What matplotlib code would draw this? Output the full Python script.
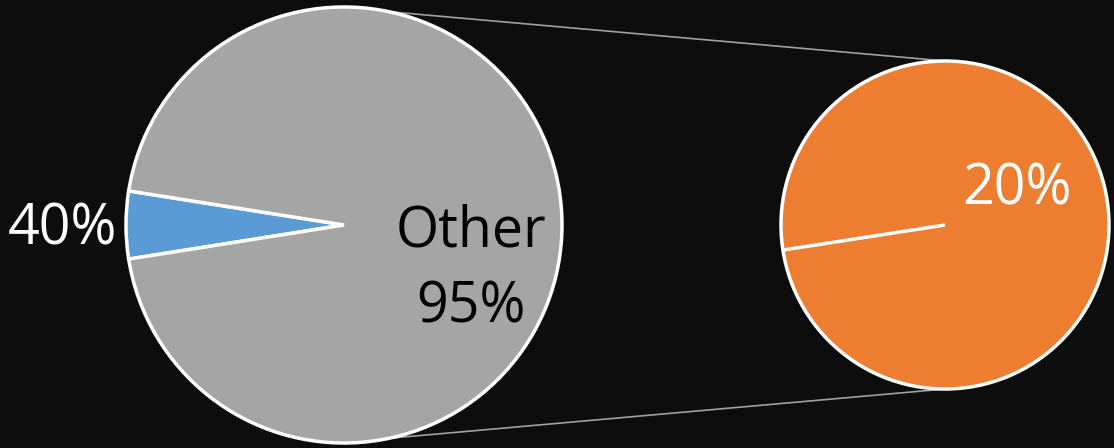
#pie of pie chart, dark background
import numpy as np
import matplotlib
matplotlib.use("Agg")
import matplotlib.pyplot as plt

main_values = [5, 95]
main_labels = ["40%", "Other\n95%"]
main_colors = ["#5b9bd5", "#a5a5a5"]

sub_values = [100]
sub_labels = ["20%"]
sub_colors = ["#ed7d31"]

bg = "#0d0d0d"
W, H = 1114, 448

fig = plt.figure(figsize=(W / 100, H / 100), dpi=100, facecolor=bg)
ax = fig.add_axes([0, 0, 1, 1])
ax.set_facecolor(bg)

# main pie
c1 = (344, H - 225)
r1 = 218
ax.pie(main_values, colors=main_colors, startangle=171, center=c1, radius=r1,
       wedgeprops=dict(edgecolor="white", linewidth=2.5), frame=True)

# secondary pie
c2 = (945, H - 225)
r2 = 164
start2 = 188.8
ax.pie(sub_values, colors=sub_colors, startangle=start2, center=c2, radius=r2,
       wedgeprops=dict(edgecolor="white", linewidth=2.5), frame=True)
a = np.deg2rad(start2)
ax.plot([c2[0], c2[0] + r2 * np.cos(a)], [c2[1], c2[1] + r2 * np.sin(a)],
        color="white", lw=2.5, solid_capstyle="butt")

# connector lines
for a1, a2 in [(78, 90), (-78, -90)]:
    t1, t2 = np.deg2rad(a1), np.deg2rad(a2)
    ax.plot([c1[0] + r1 * np.cos(t1), c2[0] + r2 * np.cos(t2)],
            [c1[1] + r1 * np.sin(t1), c2[1] + r2 * np.sin(t2)],
            color="#a0a0a0", lw=1.2, zorder=0)

font = ["Open Sans", "DejaVu Sans"]
ax.text(62, H - 230, main_labels[0], color="white", fontsize=40, family=font,
        ha="center", va="center")
ax.text(471, H - 270, main_labels[1], color="black", fontsize=40, family=font,
        ha="center", va="center", linespacing=1.45)
ax.text(1017, H - 190, sub_labels[0], color="white", fontsize=40, family=font,
        ha="center", va="center")

ax.set_xlim(0, W)
ax.set_ylim(0, H)
ax.set_aspect("auto")
ax.axis("off")

fig.savefig("out.png", dpi=100, facecolor=bg)
